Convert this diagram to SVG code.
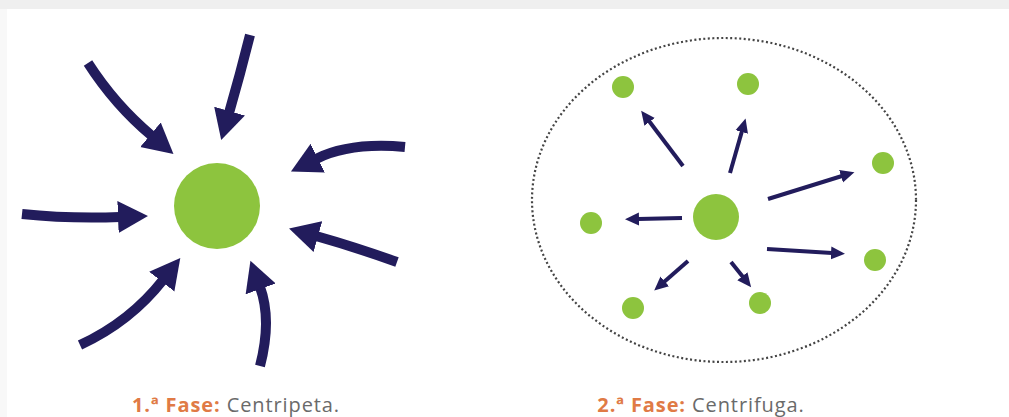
<svg xmlns="http://www.w3.org/2000/svg" width="1009" height="417" viewBox="0 0 1009 417">
<style>
.big{fill:none;stroke:#221c5c;stroke-width:10;}
.small{fill:none;stroke:#221c5c;stroke-width:4;}
.green{fill:#8dc43e;}
.lbl{font-family:"Open Sans","Noto Sans",sans-serif;font-size:20px;letter-spacing:0.9px;}
.num{fill:#e07a45;font-weight:bold;}
.txt{fill:#6a6a6a;}
</style>
<defs>
<marker id="bigHead" markerUnits="userSpaceOnUse" markerWidth="32" markerHeight="34" viewBox="0 0 32 34" refX="2" refY="17" orient="auto">
<path d="M0,1 L30,17 L0,33 Z" fill="#221c5c"/>
</marker>
<marker id="smallHead" markerUnits="userSpaceOnUse" markerWidth="15" markerHeight="15" viewBox="0 0 15 15" refX="1" refY="7.5" orient="auto">
<path d="M0,1 L14,7.5 L0,14 Z" fill="#221c5c"/>
</marker>
</defs>
<rect x="0" y="0" width="1009" height="417" fill="#ffffff"/>
<rect x="0" y="0" width="1009" height="9" fill="#efefef"/>
<rect x="0" y="9" width="7" height="408" fill="#f8f8f8"/>

<g id="phase1">
<g id="center1"><circle class="green" cx="217" cy="206" r="43"/></g>
<g id="connectors1">
<path class="big" d="M88,63 Q115,105 152,136" marker-end="url(#bigHead)"/>
<path class="big" d="M250,35 Q240,75 229,113" marker-end="url(#bigHead)"/>
<path class="big" d="M405,147 Q350,142 316,159" marker-end="url(#bigHead)"/>
<path class="big" d="M22,214 Q70,219 120,217" marker-end="url(#bigHead)"/>
<path class="big" d="M397,262 Q355,247 316,236" marker-end="url(#bigHead)"/>
<path class="big" d="M80,345 Q130,322 163,280" marker-end="url(#bigHead)"/>
<path class="big" d="M260,366 Q272,320 260,287" marker-end="url(#bigHead)"/>
</g>
<text class="lbl" x="236" y="412" text-anchor="middle"><tspan class="num">1.ª Fase:</tspan><tspan class="txt"> Centripeta.</tspan></text>
</g>

<g id="phase2">
<ellipse cx="724" cy="200" rx="192" ry="162" fill="none" stroke="#444" stroke-width="2.2" stroke-dasharray="2 2.5"/>
<g id="center2"><circle class="green" cx="716" cy="217" r="23"/></g>
<g id="n1"><circle class="green" cx="623" cy="87" r="11"/></g>
<g id="n2"><circle class="green" cx="748" cy="84" r="11"/></g>
<g id="n3"><circle class="green" cx="883" cy="163" r="11"/></g>
<g id="n4"><circle class="green" cx="591" cy="223" r="11"/></g>
<g id="n5"><circle class="green" cx="875" cy="260" r="11"/></g>
<g id="n6"><circle class="green" cx="633" cy="308" r="11"/></g>
<g id="n7"><circle class="green" cx="760" cy="303" r="11"/></g>
<g id="connectors2">
<path class="small" d="M683,166 L649,121" marker-end="url(#smallHead)"/>
<path class="small" d="M730,173 L742,131" marker-end="url(#smallHead)"/>
<path class="small" d="M768,199 L842,176" marker-end="url(#smallHead)"/>
<path class="small" d="M682,218 L638,219" marker-end="url(#smallHead)"/>
<path class="small" d="M767,249 L832,253" marker-end="url(#smallHead)"/>
<path class="small" d="M688,261 L664,282" marker-end="url(#smallHead)"/>
<path class="small" d="M731,262 L743,277" marker-end="url(#smallHead)"/>
</g>
<text class="lbl" x="701" y="412" text-anchor="middle"><tspan class="num">2.ª Fase:</tspan><tspan class="txt"> Centrifuga.</tspan></text>
</g>
</svg>
